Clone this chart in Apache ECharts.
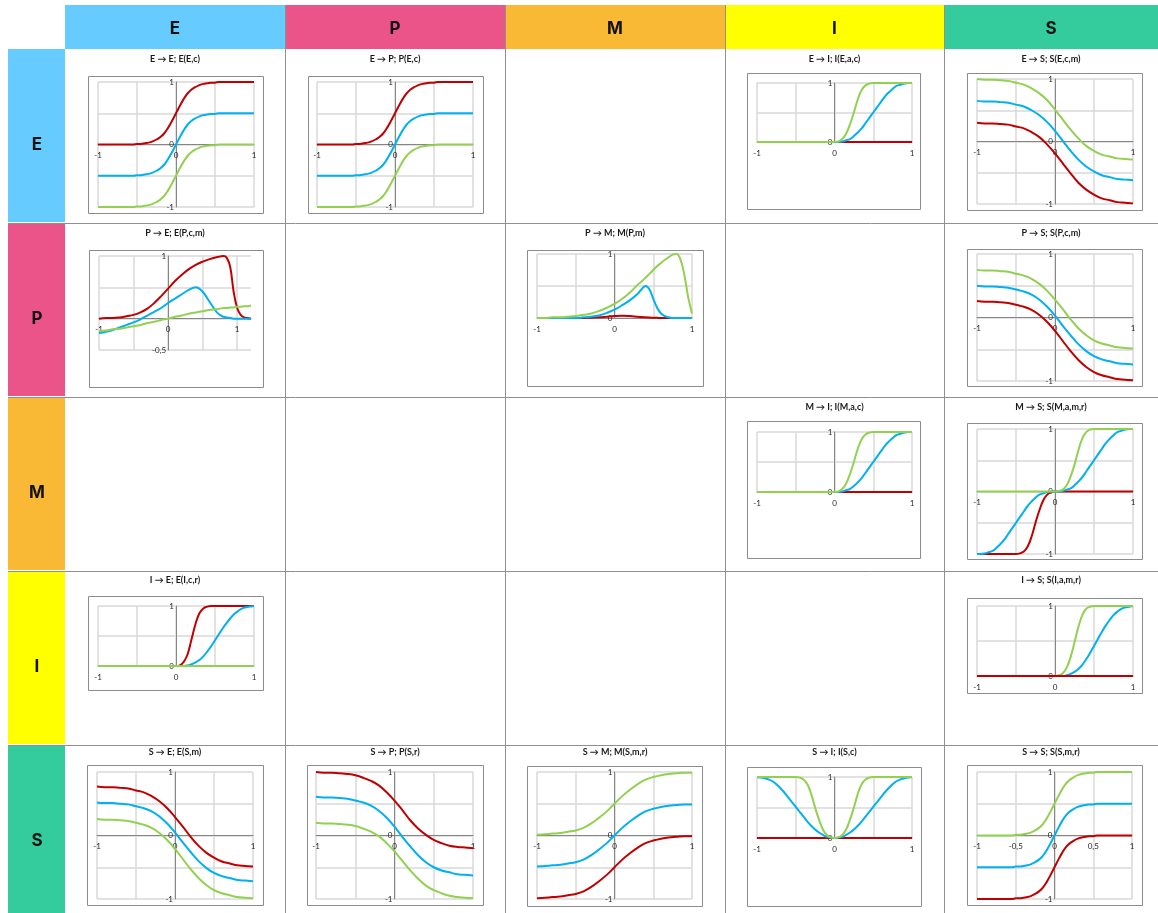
<!DOCTYPE html>
<html>
<head>
<meta charset="utf-8">
<title>Interaction matrix</title>
<script src="https://cdn.jsdelivr.net/npm/echarts@6/dist/echarts.min.js"></script>
<style>
  html, body { margin: 0; padding: 0; background: #ffffff; }
  #main { width: 1158px; height: 913px; }
</style>
</head>
<body>
<div id="main"></div>
<script>
// ---- categories of the matrix (rows = source, columns = target) ----
const categories = ['E', 'P', 'M', 'I', 'S'];

// ---- sample positions on the horizontal axis ----
const X21 = [-1, -0.9, -0.8, -0.7, -0.6, -0.5, -0.4, -0.3, -0.2, -0.1, 0, 0.1, 0.2, 0.3, 0.4, 0.5, 0.6, 0.7, 0.8, 0.9, 1];
const X41 = [-1, -0.95, -0.9, -0.85, -0.8, -0.75, -0.7, -0.65, -0.6, -0.55, -0.5, -0.45, -0.4, -0.35, -0.3, -0.25, -0.2, -0.15, -0.1, -0.05,
             0, 0.05, 0.1, 0.15, 0.2, 0.25, 0.3, 0.35, 0.4, 0.45, 0.5, 0.55, 0.6, 0.65, 0.7, 0.75, 0.8, 0.85, 0.9, 0.95, 1];
const xPE = [-1, -0.9, -0.8, -0.7, -0.6, -0.5, -0.4, -0.3, -0.2, -0.1, 0, 0.1, 0.2, 0.3, 0.4, 0.5, 0.6, 0.7, 0.75, 0.8, 0.85, 0.9, 0.95, 1, 1.05, 1.1, 1.15, 1.2];
const xPM = [-1, -0.9, -0.8, -0.7, -0.6, -0.5, -0.4, -0.3, -0.2, -0.1, 0, 0.1, 0.2, 0.3, 0.35, 0.4, 0.45, 0.5, 0.55, 0.6, 0.65, 0.7, 0.75, 0.8, 0.85, 0.9, 0.95, 1];

// ---- E -> E (X41) ----
const eeRed   = [0, 0, 0, 0, 0, 0, 0, 0, 0, 0, 0.01, 0.01, 0.02, 0.03, 0.05, 0.08, 0.12, 0.18, 0.27, 0.38,
                 0.5, 0.62, 0.73, 0.82, 0.88, 0.92, 0.95, 0.97, 0.98, 0.99, 0.99, 1, 1, 1, 1, 1, 1, 1, 1, 1, 1];
const eeBlue  = [-0.5, -0.5, -0.5, -0.5, -0.5, -0.5, -0.5, -0.5, -0.5, -0.5, -0.49, -0.49, -0.48, -0.47, -0.45, -0.42, -0.38, -0.32, -0.23, -0.12,
                 0, 0.12, 0.23, 0.32, 0.38, 0.42, 0.45, 0.47, 0.48, 0.49, 0.49, 0.5, 0.5, 0.5, 0.5, 0.5, 0.5, 0.5, 0.5, 0.5, 0.5];
const eeGreen = [-1, -1, -1, -1, -1, -1, -1, -1, -1, -1, -0.99, -0.99, -0.98, -0.97, -0.95, -0.92, -0.88, -0.82, -0.73, -0.62,
                 -0.5, -0.38, -0.27, -0.18, -0.12, -0.08, -0.05, -0.03, -0.02, -0.01, -0.01, 0, 0, 0, 0, 0, 0, 0, 0, 0, 0];

// ---- E -> P (X41) ----
const epRed   = [0, 0, 0, 0, 0, 0, 0, 0, 0, 0, 0.01, 0.01, 0.02, 0.03, 0.05, 0.08, 0.12, 0.18, 0.27, 0.38,
                 0.5, 0.62, 0.73, 0.82, 0.88, 0.92, 0.95, 0.97, 0.98, 0.99, 0.99, 1, 1, 1, 1, 1, 1, 1, 1, 1, 1];
const epBlue  = [-0.5, -0.5, -0.5, -0.5, -0.5, -0.5, -0.5, -0.5, -0.5, -0.5, -0.49, -0.49, -0.48, -0.47, -0.45, -0.42, -0.38, -0.32, -0.23, -0.12,
                 0, 0.12, 0.23, 0.32, 0.38, 0.42, 0.45, 0.47, 0.48, 0.49, 0.49, 0.5, 0.5, 0.5, 0.5, 0.5, 0.5, 0.5, 0.5, 0.5, 0.5];
const epGreen = [-1, -1, -1, -1, -1, -1, -1, -1, -1, -1, -0.99, -0.99, -0.98, -0.97, -0.95, -0.92, -0.88, -0.82, -0.73, -0.62,
                 -0.5, -0.38, -0.27, -0.18, -0.12, -0.08, -0.05, -0.03, -0.02, -0.01, -0.01, 0, 0, 0, 0, 0, 0, 0, 0, 0, 0];

// ---- E -> I (X41) ----
const eiRed   = [0, 0, 0, 0, 0, 0, 0, 0, 0, 0, 0, 0, 0, 0, 0, 0, 0, 0, 0, 0,
                 0, 0, 0, 0, 0, 0, 0, 0, 0, 0, 0, 0, 0, 0, 0, 0, 0, 0, 0, 0, 0];
const eiBlue  = [0, 0, 0, 0, 0, 0, 0, 0, 0, 0, 0, 0, 0, 0, 0, 0, 0, 0, 0, 0,
                 0, 0, 0.01, 0.03, 0.05, 0.1, 0.16, 0.23, 0.32, 0.41, 0.5, 0.59, 0.68, 0.77, 0.84, 0.9, 0.95, 0.97, 0.99, 1, 1];
const eiGreen = [0, 0, 0, 0, 0, 0, 0, 0, 0, 0, 0, 0, 0, 0, 0, 0, 0, 0, 0, 0,
                 0, 0.01, 0.05, 0.14, 0.3, 0.5, 0.72, 0.88, 0.96, 0.99, 1, 1, 1, 1, 1, 1, 1, 1, 1, 1, 1];

// ---- E -> S (X21) ----
const esRed   = [0.3, 0.29, 0.29, 0.28, 0.27, 0.24, 0.21, 0.15, 0.07, -0.05, -0.19, -0.35, -0.51, -0.66, -0.77, -0.85, -0.91, -0.94, -0.97, -0.98, -0.99];
const esBlue  = [0.65, 0.64, 0.64, 0.63, 0.62, 0.59, 0.56, 0.5, 0.42, 0.31, 0.17, 0.01, -0.15, -0.29, -0.4, -0.48, -0.54, -0.57, -0.6, -0.61, -0.62];
const esGreen = [1, 0.99, 0.99, 0.98, 0.97, 0.94, 0.91, 0.85, 0.77, 0.66, 0.51, 0.35, 0.19, 0.05, -0.07, -0.15, -0.21, -0.24, -0.27, -0.28, -0.29];

// ---- P -> E (xPE) ----
const peRed   = [0, 0.01, 0.01, 0.02, 0.04, 0.06, 0.1, 0.16, 0.25, 0.36, 0.48, 0.6, 0.7, 0.79, 0.86, 0.91, 0.95, 0.98, 0.99, 1, 0.97, 0.82, 0.42, 0.17, 0.06, 0.02, 0.01, 0];
const peBlue  = [-0.23, -0.21, -0.18, -0.14, -0.1, -0.06, -0.01, 0.05, 0.11, 0.17, 0.25, 0.32, 0.39, 0.46, 0.5, 0.43, 0.27, 0.11, 0.06, 0.03, 0.02, 0.01, 0, 0, 0, 0, 0, 0];
const peGreen = [-0.2, -0.19, -0.17, -0.16, -0.14, -0.12, -0.1, -0.07, -0.05, -0.02, 0, 0.03, 0.05, 0.08, 0.1, 0.12, 0.14, 0.15, 0.16, 0.17, 0.17, 0.18, 0.18, 0.19, 0.19, 0.2, 0.2, 0.21];

// ---- P -> M (xPM) ----
const pmRed   = [0, 0, 0, 0, 0, 0, 0, 0.005, 0.01, 0.02, 0.03, 0.035, 0.03, 0.02, 0.015, 0.01, 0.007, 0.005, 0.003, 0, 0, 0, 0, 0, 0, 0, 0, 0];
const pmBlue  = [0, 0, 0, 0, 0, 0, 0.01, 0.02, 0.04, 0.08, 0.13, 0.2, 0.28, 0.38, 0.45, 0.5, 0.45, 0.3, 0.16, 0.07, 0.03, 0.01, 0, 0, 0, 0, 0, 0];
const pmGreen = [0, 0, 0.01, 0.01, 0.02, 0.03, 0.05, 0.07, 0.11, 0.16, 0.22, 0.3, 0.4, 0.52, 0.57, 0.63, 0.69, 0.75, 0.81, 0.86, 0.91, 0.95, 0.99, 1, 0.92, 0.68, 0.33, 0.07];

// ---- P -> S (X21) ----
const psRed   = [0.26, 0.25, 0.25, 0.24, 0.23, 0.2, 0.17, 0.12, 0.04, -0.07, -0.21, -0.37, -0.53, -0.67, -0.78, -0.86, -0.91, -0.94, -0.97, -0.98, -0.99];
const psBlue  = [0.5, 0.49, 0.49, 0.48, 0.47, 0.44, 0.41, 0.36, 0.28, 0.17, 0.03, -0.13, -0.28, -0.42, -0.53, -0.61, -0.66, -0.69, -0.72, -0.73, -0.74];
const psGreen = [0.75, 0.74, 0.74, 0.73, 0.72, 0.69, 0.66, 0.61, 0.53, 0.42, 0.28, 0.13, -0.03, -0.17, -0.28, -0.36, -0.41, -0.44, -0.47, -0.48, -0.49];

// ---- M -> I (X41) ----
const miRed   = [0, 0, 0, 0, 0, 0, 0, 0, 0, 0, 0, 0, 0, 0, 0, 0, 0, 0, 0, 0,
                 0, 0, 0, 0, 0, 0, 0, 0, 0, 0, 0, 0, 0, 0, 0, 0, 0, 0, 0, 0, 0];
const miBlue  = [0, 0, 0, 0, 0, 0, 0, 0, 0, 0, 0, 0, 0, 0, 0, 0, 0, 0, 0, 0,
                 0, 0, 0.01, 0.03, 0.05, 0.1, 0.16, 0.23, 0.32, 0.41, 0.5, 0.59, 0.68, 0.77, 0.84, 0.9, 0.95, 0.97, 0.99, 1, 1];
const miGreen = [0, 0, 0, 0, 0, 0, 0, 0, 0, 0, 0, 0, 0, 0, 0, 0, 0, 0, 0, 0,
                 0, 0.01, 0.05, 0.14, 0.3, 0.5, 0.72, 0.88, 0.96, 0.99, 1, 1, 1, 1, 1, 1, 1, 1, 1, 1, 1];

// ---- M -> S (X41) ----
const msRed   = [-1, -1, -1, -1, -1, -1, -1, -1, -1, -1, -1, -0.99, -0.96, -0.88, -0.72, -0.5, -0.3, -0.14, -0.05, -0.01,
                 0, 0, 0, 0, 0, 0, 0, 0, 0, 0, 0, 0, 0, 0, 0, 0, 0, 0, 0, 0, 0];
const msBlue  = [-1, -1, -0.99, -0.97, -0.95, -0.9, -0.84, -0.77, -0.68, -0.59, -0.5, -0.41, -0.32, -0.23, -0.16, -0.1, -0.05, -0.03, -0.01, 0,
                 0, 0, 0.01, 0.03, 0.05, 0.1, 0.16, 0.23, 0.32, 0.41, 0.5, 0.59, 0.68, 0.77, 0.84, 0.9, 0.95, 0.97, 0.99, 1, 1];
const msGreen = [0, 0, 0, 0, 0, 0, 0, 0, 0, 0, 0, 0, 0, 0, 0, 0, 0, 0, 0, 0,
                 0, 0.01, 0.03, 0.1, 0.24, 0.43, 0.66, 0.85, 0.95, 0.99, 1, 1, 1, 1, 1, 1, 1, 1, 1, 1, 1];

// ---- I -> E (X41) ----
const ieRed   = [0, 0, 0, 0, 0, 0, 0, 0, 0, 0, 0, 0, 0, 0, 0, 0, 0, 0, 0, 0,
                 0, 0.01, 0.07, 0.2, 0.45, 0.7, 0.88, 0.96, 0.99, 1, 1, 1, 1, 1, 1, 1, 1, 1, 1, 1, 1];
const ieBlue  = [0, 0, 0, 0, 0, 0, 0, 0, 0, 0, 0, 0, 0, 0, 0, 0, 0, 0, 0, 0,
                 0, 0, 0, 0.01, 0.03, 0.06, 0.1, 0.16, 0.24, 0.33, 0.43, 0.53, 0.63, 0.72, 0.8, 0.87, 0.92, 0.96, 0.98, 0.99, 1];
const ieGreen = [0, 0, 0, 0, 0, 0, 0, 0, 0, 0, 0, 0, 0, 0, 0, 0, 0, 0, 0, 0,
                 0, 0, 0, 0, 0, 0, 0, 0, 0, 0, 0, 0, 0, 0, 0, 0, 0, 0, 0, 0, 0];

// ---- I -> S (X41) ----
const isRed   = [0, 0, 0, 0, 0, 0, 0, 0, 0, 0, 0, 0, 0, 0, 0, 0, 0, 0, 0, 0,
                 0, 0, 0, 0, 0, 0, 0, 0, 0, 0, 0, 0, 0, 0, 0, 0, 0, 0, 0, 0, 0];
const isBlue  = [0, 0, 0, 0, 0, 0, 0, 0, 0, 0, 0, 0, 0, 0, 0, 0, 0, 0, 0, 0,
                 0, 0, 0, 0.01, 0.03, 0.06, 0.1, 0.16, 0.24, 0.33, 0.43, 0.53, 0.63, 0.72, 0.8, 0.87, 0.92, 0.96, 0.98, 0.99, 1];
const isGreen = [0, 0, 0, 0, 0, 0, 0, 0, 0, 0, 0, 0, 0, 0, 0, 0, 0, 0, 0, 0,
                 0, 0.01, 0.04, 0.12, 0.27, 0.48, 0.7, 0.87, 0.96, 0.99, 1, 1, 1, 1, 1, 1, 1, 1, 1, 1, 1];

// ---- S -> E (X21) ----
const seRed   = [0.77, 0.76, 0.76, 0.75, 0.74, 0.71, 0.68, 0.62, 0.54, 0.43, 0.29, 0.14, -0.02, -0.16, -0.27, -0.35, -0.41, -0.44, -0.47, -0.48, -0.49];
const seBlue  = [0.52, 0.51, 0.51, 0.5, 0.49, 0.46, 0.43, 0.38, 0.3, 0.19, 0.05, -0.11, -0.26, -0.4, -0.51, -0.59, -0.64, -0.67, -0.7, -0.71, -0.72];
const seGreen = [0.26, 0.25, 0.25, 0.24, 0.23, 0.2, 0.17, 0.12, 0.04, -0.07, -0.21, -0.37, -0.53, -0.67, -0.78, -0.86, -0.91, -0.94, -0.97, -0.98, -0.99];

// ---- S -> P (X21) ----
const spRed   = [1, 0.99, 0.99, 0.98, 0.97, 0.95, 0.91, 0.86, 0.79, 0.68, 0.55, 0.4, 0.24, 0.11, 0.01, -0.07, -0.12, -0.16, -0.18, -0.19, -0.2];
const spBlue  = [0.61, 0.6, 0.6, 0.59, 0.58, 0.55, 0.52, 0.47, 0.39, 0.28, 0.14, -0.02, -0.17, -0.31, -0.42, -0.5, -0.55, -0.58, -0.61, -0.62, -0.63];
const spGreen = [0.2, 0.19, 0.19, 0.18, 0.17, 0.15, 0.11, 0.06, -0.01, -0.12, -0.25, -0.4, -0.55, -0.68, -0.79, -0.86, -0.91, -0.95, -0.97, -0.98, -0.99];

// ---- S -> M (X21) ----
const smRed   = [-0.99, -0.98, -0.97, -0.96, -0.94, -0.92, -0.88, -0.81, -0.72, -0.62, -0.5, -0.38, -0.28, -0.19, -0.12, -0.08, -0.05, -0.03, -0.02, -0.01, -0.01];
const smBlue  = [-0.49, -0.48, -0.47, -0.46, -0.44, -0.42, -0.38, -0.31, -0.22, -0.12, 0, 0.12, 0.22, 0.31, 0.38, 0.42, 0.45, 0.47, 0.48, 0.49, 0.49];
const smGreen = [0.01, 0.02, 0.03, 0.04, 0.06, 0.08, 0.12, 0.19, 0.28, 0.38, 0.5, 0.62, 0.72, 0.81, 0.88, 0.92, 0.95, 0.97, 0.98, 0.99, 0.99];

// ---- S -> I (X41) ----
const siRed   = [0, 0, 0, 0, 0, 0, 0, 0, 0, 0, 0, 0, 0, 0, 0, 0, 0, 0, 0, 0,
                 0, 0, 0, 0, 0, 0, 0, 0, 0, 0, 0, 0, 0, 0, 0, 0, 0, 0, 0, 0, 0];
const siBlue  = [1, 0.99, 0.98, 0.96, 0.93, 0.88, 0.82, 0.75, 0.67, 0.59, 0.51, 0.43, 0.35, 0.27, 0.2, 0.14, 0.09, 0.05, 0.02, 0.01,
                 0, 0.01, 0.02, 0.05, 0.09, 0.14, 0.2, 0.27, 0.35, 0.43, 0.51, 0.59, 0.67, 0.75, 0.82, 0.88, 0.93, 0.96, 0.98, 0.99, 1];
const siGreen = [1, 1, 1, 1, 1, 1, 1, 1, 1, 1, 1, 0.99, 0.96, 0.88, 0.72, 0.5, 0.3, 0.14, 0.05, 0.01,
                 0, 0.01, 0.05, 0.14, 0.3, 0.5, 0.72, 0.88, 0.96, 0.99, 1, 1, 1, 1, 1, 1, 1, 1, 1, 1, 1];

// ---- S -> S (X41) ----
const ssRed   = [-1, -1, -1, -1, -1, -1, -1, -1, -1, -1, -0.99, -0.99, -0.98, -0.97, -0.95, -0.92, -0.88, -0.82, -0.73, -0.62,
                 -0.5, -0.38, -0.27, -0.18, -0.12, -0.08, -0.05, -0.03, -0.02, -0.01, -0.01, 0, 0, 0, 0, 0, 0, 0, 0, 0, 0];
const ssBlue  = [-0.5, -0.5, -0.5, -0.5, -0.5, -0.5, -0.5, -0.5, -0.5, -0.5, -0.49, -0.49, -0.48, -0.47, -0.45, -0.42, -0.38, -0.32, -0.23, -0.12,
                 0, 0.12, 0.23, 0.32, 0.38, 0.42, 0.45, 0.47, 0.48, 0.49, 0.49, 0.5, 0.5, 0.5, 0.5, 0.5, 0.5, 0.5, 0.5, 0.5, 0.5];
const ssGreen = [0, 0, 0, 0, 0, 0, 0, 0, 0, 0, 0.01, 0.01, 0.02, 0.03, 0.05, 0.08, 0.12, 0.18, 0.27, 0.38,
                 0.5, 0.62, 0.73, 0.82, 0.88, 0.92, 0.95, 0.97, 0.98, 0.99, 0.99, 1, 1, 1, 1, 1, 1, 1, 1, 1, 1];

// ---- styling and table geometry ----
const LINE_COLORS = ['#C00000', '#00B0F0', '#92D050'];
const HEADER_COLORS = ['#66CCFF', '#EA5489', '#F9B935', '#FFFF00', '#35CC9D'];
const colX = [65, 285, 505, 725, 944];
const colW = [220, 220, 220, 219, 214];
const rowY = [49, 223, 397, 571, 745];
const rowH = [174, 174, 174, 174, 168];
const titleDy = [10, 10, 10, 9, 7];

// one entry per populated cell: box/plot offsets are relative to the cell's top-left corner
const CHARTS = [
  { row: 0, col: 0, title: 'E → E; E(E,c)',     xs: X41, data: [eeRed, eeBlue, eeGreen], y: [-1, 1],   box: [23, 27, 175, 137], plot: [33, 33, 156, 125] },
  { row: 0, col: 1, title: 'E → P; P(E,c)',     xs: X41, data: [epRed, epBlue, epGreen], y: [-1, 1],   box: [23, 27, 175, 137], plot: [32, 33, 156, 125] },
  { row: 0, col: 3, title: 'E → I; I(E,a,c)',   xs: X41, data: [eiRed, eiBlue, eiGreen], y: [0, 1],    box: [22, 24, 173, 136], plot: [32, 34, 155, 59] },
  { row: 0, col: 4, title: 'E → S; S(E,c,m)',   xs: X21, data: [esRed, esBlue, esGreen], y: [-1, 1],   box: [23, 24, 175, 137], plot: [33, 30, 156, 125] },
  { row: 1, col: 0, title: 'P → E; E(P,c,m)',   xs: xPE, data: [peRed, peBlue, peGreen], y: [-0.5, 1], box: [24, 27, 174, 137], plot: [34, 33, 152, 94], xMax: 1.2, yLabels: [1, -0.5] },
  { row: 1, col: 2, title: 'P → M; M(P,m)',     xs: xPM, data: [pmRed, pmBlue, pmGreen], y: [0, 1],    box: [22, 27, 176, 136], plot: [32, 31, 155, 64] },
  { row: 1, col: 4, title: 'P → S; S(P,c,m)',   xs: X21, data: [psRed, psBlue, psGreen], y: [-1, 1],   box: [23, 26, 175, 137], plot: [33, 31, 156, 127] },
  { row: 2, col: 3, title: 'M → I; I(M,a,c)',   xs: X41, data: [miRed, miBlue, miGreen], y: [0, 1],    box: [22, 24, 173, 137], plot: [32, 35, 155, 60] },
  { row: 2, col: 4, title: 'M → S; S(M,a,m,r)', xs: X41, data: [msRed, msBlue, msGreen], y: [-1, 1],   box: [23, 26, 175, 136], plot: [33, 32, 156, 125] },
  { row: 3, col: 0, title: 'I → E; E(I,c,r)',   xs: X41, data: [ieRed, ieBlue, ieGreen], y: [0, 1],    box: [23, 25, 175, 94],  plot: [33, 35, 156, 60] },
  { row: 3, col: 4, title: 'I → S; S(I,a,m,r)', xs: X41, data: [isRed, isBlue, isGreen], y: [0, 1],    box: [23, 27, 175, 95],  plot: [33, 35, 156, 70], order: [1, 2, 0] },
  { row: 4, col: 0, title: 'S → E; E(S,m)',     xs: X21, data: [seRed, seBlue, seGreen], y: [-1, 1],   box: [22, 20, 176, 140], plot: [32, 27, 156, 127] },
  { row: 4, col: 1, title: 'S → P; P(S,r)',     xs: X21, data: [spRed, spBlue, spGreen], y: [-1, 1],   box: [22, 20, 176, 140], plot: [31, 27, 157, 127] },
  { row: 4, col: 2, title: 'S → M; M(S,m,r)',   xs: X21, data: [smRed, smBlue, smGreen], y: [-1, 1],   box: [22, 21, 175, 140], plot: [32, 27, 155, 127] },
  { row: 4, col: 3, title: 'S → I; I(S,c)',     xs: X41, data: [siRed, siBlue, siGreen], y: [0, 1],    box: [22, 22, 174, 139], plot: [32, 32, 155, 61] },
  { row: 4, col: 4, title: 'S → S; S(S,m,r)',   xs: X41, data: [ssRed, ssBlue, ssGreen], y: [-1, 1],   box: [23, 20, 175, 140], plot: [33, 27, 155, 127], halfXLabels: true }
];

const fmtNum = v => String(v).replace('.', ',');

// ---- table: header bands, row bands, lines, chart frames, titles ----
const graphics = [];
categories.forEach((name, c) => {
  graphics.push({ type: 'rect', silent: true, z: 0,
    shape: { x: colX[c], y: 5, width: colW[c], height: 44 },
    style: { fill: HEADER_COLORS[c] } });
  graphics.push({ type: 'text', silent: true, z: 2,
    style: { text: name, x: colX[c] + colW[c] / 2, y: 29, fill: '#111111',
      font: 'bold 17px Inter, "Open Sans", sans-serif',
      textAlign: 'center', align: 'center', textVerticalAlign: 'middle', verticalAlign: 'middle' } });
  const top = rowY[c] + (c ? 1 : 0);
  const h = rowH[c] - (c ? 1 : 0) - (c < 4 ? 1 : 0);
  graphics.push({ type: 'rect', silent: true, z: 0,
    shape: { x: 8, y: top, width: 57, height: h },
    style: { fill: HEADER_COLORS[c] } });
  graphics.push({ type: 'text', silent: true, z: 2,
    style: { text: name, x: 37, y: rowY[c] + 96, fill: '#111111',
      font: 'bold 17px Inter, "Open Sans", sans-serif',
      textAlign: 'center', align: 'center', textVerticalAlign: 'middle', verticalAlign: 'middle' } });
});
for (let r = 1; r < 5; r++) {
  graphics.push({ type: 'line', silent: true, z: 1,
    shape: { x1: 8, y1: rowY[r] + 0.5, x2: 1158, y2: rowY[r] + 0.5 },
    style: { stroke: '#909090', lineWidth: 1 } });
}
for (let c = 1; c < 5; c++) {
  graphics.push({ type: 'line', silent: true, z: 1,
    shape: { x1: colX[c] + 0.5, y1: 5, x2: colX[c] + 0.5, y2: 913 },
    style: { stroke: '#909090', lineWidth: 1 } });
}
CHARTS.forEach(ch => {
  const ox = colX[ch.col], oy = rowY[ch.row];
  graphics.push({ type: 'rect', silent: true, z: 0,
    shape: { x: ox + ch.box[0] + 0.5, y: oy + ch.box[1] + 0.5, width: ch.box[2], height: ch.box[3] },
    style: { fill: '#ffffff', stroke: '#8c8c8c', lineWidth: 1 } });
  graphics.push({ type: 'text', silent: true, z: 2,
    style: { text: ch.title, x: ox + colW[ch.col] / 2, y: oy + titleDy[ch.row], fill: '#1a1a1a',
      font: 'bold 9px Lato, "Open Sans", sans-serif',
      textAlign: 'center', align: 'center', textVerticalAlign: 'middle', verticalAlign: 'middle' } });
});

// ---- grids, axes and curves ----
// each axis sits on the other axis's zero: the offset moves it in from the grid edge
const grids = [], xAxes = [], yAxes = [], series = [];
CHARTS.forEach((ch, i) => {
  const xMin = -1, xMax = ch.xMax || 1;
  const w = ch.plot[2], h = ch.plot[3];
  grids.push({
    left: colX[ch.col] + ch.plot[0], top: rowY[ch.row] + ch.plot[1],
    width: w, height: h,
    containLabel: false, outerBoundsMode: 'none', show: false
  });
  xAxes.push({
    gridIndex: i, type: 'value', position: 'bottom', min: xMin, max: xMax, interval: 0.5,
    offset: -h * (0 - ch.y[0]) / (ch.y[1] - ch.y[0]),
    axisLine: { show: true, onZero: false, lineStyle: { color: '#868686', width: 1 } },
    axisTick: { show: false },
    splitLine: { show: true, showMaxLine: !ch.xMax, lineStyle: { color: '#d9d9d9', width: 1.5 } },
    axisLabel: {
      show: true, fontSize: 8, fontFamily: 'Lato, "Open Sans", sans-serif', color: '#262626', margin: 7,
      showMinLabel: true, showMaxLabel: true,
      formatter: v => (ch.halfXLabels || Number.isInteger(v)) ? fmtNum(v) : ''
    }
  });
  yAxes.push({
    gridIndex: i, type: 'value', position: 'left', min: ch.y[0], max: ch.y[1], interval: 0.5,
    offset: -w * (0 - xMin) / (xMax - xMin),
    axisLine: { show: true, onZero: false, lineStyle: { color: '#868686', width: 1 } },
    axisTick: { show: false },
    splitLine: { show: true, lineStyle: { color: '#d9d9d9', width: 1.5 } },
    axisLabel: {
      show: true, fontSize: 8, fontFamily: 'Lato, "Open Sans", sans-serif', color: '#262626', margin: 2,
      showMinLabel: true, showMaxLabel: true,
      formatter: v => {
        if (ch.yLabels) return ch.yLabels.indexOf(v) >= 0 ? fmtNum(v) : '';
        return Number.isInteger(v) ? fmtNum(v) : '';
      }
    }
  });
  (ch.order || [0, 1, 2]).forEach(k => {
    series.push({
      type: 'line', xAxisIndex: i, yAxisIndex: i,
      data: ch.xs.map((x, j) => [x, ch.data[k][j]]),
      showSymbol: false, symbol: 'none', smooth: 0.4, clip: false, silent: true,
      lineStyle: { width: 2, color: LINE_COLORS[k] },
      itemStyle: { color: LINE_COLORS[k] },
      emphasis: { disabled: true }, z: 3
    });
  });
});

const chart = echarts.init(document.getElementById('main'), null, { renderer: 'canvas' });
chart.setOption({
  backgroundColor: '#ffffff',
  animation: false,
  tooltip: { show: false },
  graphic: { elements: graphics },
  grid: grids,
  xAxis: xAxes,
  yAxis: yAxes,
  series: series
});
</script>
</body>
</html>
